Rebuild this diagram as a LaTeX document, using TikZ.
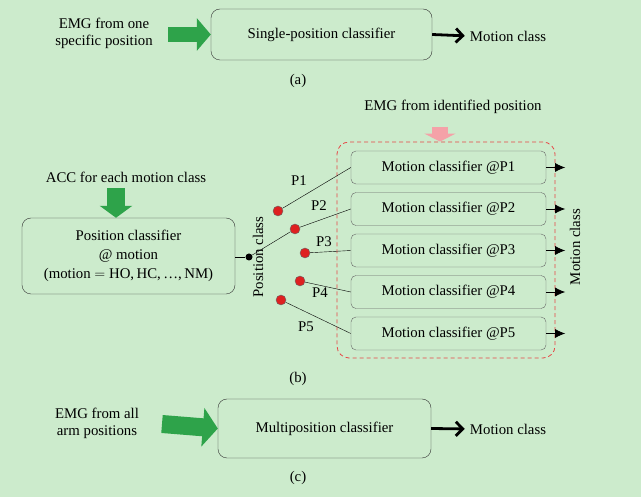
\documentclass[tikz,border=0pt]{standalone}
\usepackage{fontspec}
\setmainfont{Liberation Serif}
\usetikzlibrary{shapes,arrows,arrows.meta,positioning}
\definecolor{bgGreen}{RGB}{204,235,204}
\definecolor{fatGreen}{RGB}{46,163,74}
\definecolor{fatPink}{RGB}{244,162,168}
\definecolor{dotRed}{RGB}{222,32,32}
\definecolor{dashRed}{RGB}{230,70,70}
\tikzstyle{bigbox} = [rectangle, rounded corners=9pt, draw=black!80, text centered]
\tikzstyle{mcbox} = [rectangle, rounded corners=5pt, draw=black!60, minimum width=195pt,
minimum height=33pt, text centered]
\tikzstyle{idbox} = [rectangle, rounded corners=12pt, draw=dashRed, line width=0.8pt, dash pattern=on 4pt off 3pt, minimum width=218pt, minimum height=216pt]
\tikzstyle{txt} = [align=center, inner sep=1pt]
\tikzstyle{fatArrow} = [draw=fatGreen, line width=15pt]
\tikzstyle{outArrow} = [line width=2.8pt, shorten >=4pt, -{Straight Barb[length=7pt,width=14pt]}]
\tikzstyle{mcArrow} = [thick, -{Latex[length=10pt,width=9pt]}]
\tikzstyle{posdot} = [circle, draw=black!60, fill=dotRed, inner sep=0pt, minimum size=10pt]
\tikzstyle{pivotdot} = [circle, fill=black, inner sep=0pt, minimum size=7pt]

\begin{document}
\begin{tikzpicture}[x=1pt, y=-1pt, node distance=41.5pt, font=\fontsize{14.8}{17}\selectfont]
		\path[use as bounding box, fill=bgGreen] (0,0) rectangle (641,497);

		%(a) blocks
		\node[txt](emga) at (104,33){EMG from one\\specific position};
		\node[bigbox, minimum width=221pt, minimum height=51pt](single) at (321.5,34.5){Single-position classifier};
		\node[txt](outa) at (508,36){Motion class};
		\node(capa) at (298,81){(a)};
		\coordinate (inA) at (168,34.5);

		%(b) blocks
		\node[txt](acc) at (126,177){ACC for each motion class};
		\node[bigbox, minimum width=213pt, minimum height=76pt, align=center, font=\fontsize{14.8}{19}\selectfont](posc) at (128.5,256)
			{Position classifier\\@ motion\\(motion $=$ HO,\,HC,\,\ldots,\,NM)};
		\node[pivotdot](pivot) at (249,257){};
		\node[rotate=90](posclass) at (258,257){Position class};
		\node[txt](emgid) at (453,107){EMG from identified position};
		\node[idbox](ident) at (446,250){};
		\node[mcbox](mc1) at (448.5,167.5){Motion classifier @P1};
		\node[mcbox, below of=mc1](mc2){Motion classifier @P2};
		\node[mcbox, below of=mc2](mc3){Motion classifier @P3};
		\node[mcbox, below of=mc3](mc4){Motion classifier @P4};
		\node[mcbox, below of=mc4](mc5){Motion classifier @P5};
		\node[rotate=90](outb) at (575,247){Motion class};
		\node[posdot](p1) at (278,211){};
		\node[posdot](p2) at (295,229){};
		\node[posdot](p3) at (305,253){};
		\node[posdot](p4) at (300,281){};
		\node[posdot](p5) at (281,300){};
		\node(l1) at (299,181){P1};
		\node(l2) at (319,206){P2};
		\node(l3) at (324,242){P3};
		\node(l4) at (320,293){P4};
		\node(l5) at (306,327){P5};
		\node(capb) at (298,379){(b)};
		\coordinate (accIn) at (116,188);
		\coordinate (idIn) at (440,127);

		%(c) blocks
		\node[txt](emgc) at (97,423){EMG from all\\arm positions};
		\node[bigbox, minimum width=213pt, minimum height=59pt](multi) at (324.5,428.5){Multiposition classifier};
		\node[txt](outc) at (508,429){Motion class};
		\node(capc) at (298,478){(c)};
		\coordinate (inC) at (162,424);

		%arrows
		\draw[fatArrow, -{Triangle[length=14pt,width=32pt]}](inA)--(single.west);
		\draw[outArrow](single.east)--(outa.west);
		\draw[fatArrow, line width=18pt, -{Triangle[length=12pt,width=32pt]}](accIn)--(accIn |- posc.north);
		\draw[draw=fatPink, line width=16pt, -{Triangle[length=8pt,width=31pt]}](idIn)--(idIn |- ident.north);
		\draw(posc.east |- pivot)--(pivot);
		\draw(pivot)--(p2);
		\foreach \i in {1,...,5}{
			\draw(p\i)--(mc\i.west);
			\draw[mcArrow](mc\i.east)--++(19,0);
		}
		\draw[fatArrow, line width=18pt, -{Triangle[length=15pt,width=38pt]}](inC)--(multi.west);
		\draw[outArrow](multi.east)--(outc.west);
	\end{tikzpicture}
\end{document}
